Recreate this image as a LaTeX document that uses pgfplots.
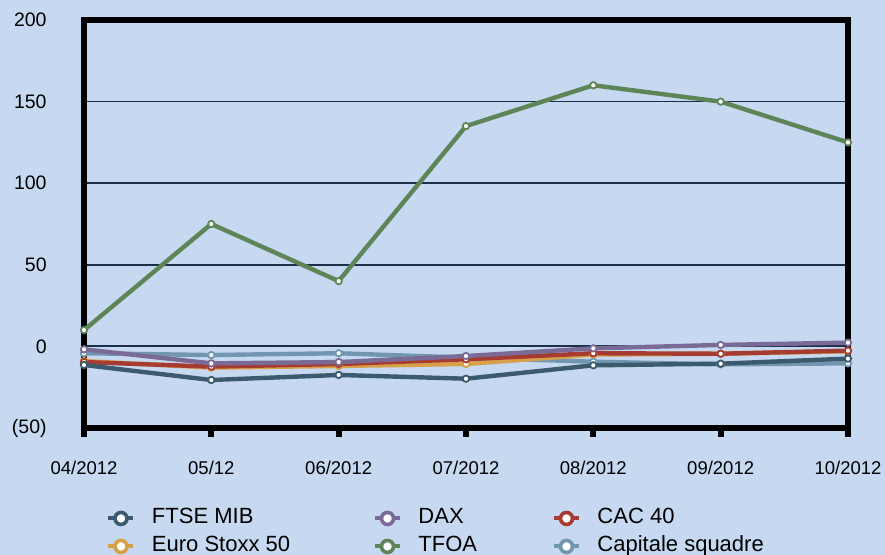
\documentclass[border=0pt]{standalone}
\usepackage{fontspec}
\setmainfont{Liberation Sans}
\usepackage{pgfplots}
\pgfplotsset{compat=1.18}
\definecolor{bg}{HTML}{C6D9F0}
\definecolor{gridc}{HTML}{1B2F4A}
\definecolor{cftse}{HTML}{3C5A6E}
\definecolor{cdax}{HTML}{7A6B96}
\definecolor{ccac}{HTML}{A63B32}
\definecolor{ceuro}{HTML}{D9A04A}
\definecolor{ctfoa}{HTML}{5E8558}
\definecolor{ccap}{HTML}{7296B0}
\begin{document}
\begin{tikzpicture}
\path[use as bounding box, fill=bg] (-42pt,-63.5pt) rectangle (400.5pt,214pt);
\begin{axis}[
  at={(0pt,0pt)}, anchor=south west,
  scale only axis, width=382pt, height=204pt,
  xmin=0, xmax=6, ymin=-50, ymax=200,
  xtick={0,1,2,3,4,5,6},
  xticklabels={04/2012,05/12,06/2012,07/2012,08/2012,09/2012,10/2012},
  ytick={-50,0,50,100,150,200},
  yticklabels={(50),0,50,100,150,200},
  /pgf/number format/assume math mode=true,
  axis line style={line width=3pt, black},
  tick align=outside,
  xtick pos=bottom,
  major tick length=4.5pt,
  x tick style={line width=3pt, black},
  y tick style={draw=none},
  ymajorgrids, grid style={gridc, line width=0.9pt},
  yticklabel style={font=\fontsize{9.75}{11}\selectfont, inner sep=0pt, anchor=east, xshift=-14pt},
  xticklabel style={font=\fontsize{9.25}{11}\selectfont, inner sep=0pt, anchor=north, yshift=-12pt},
  every axis plot/.append style={line width=2.2pt, mark=*, mark size=1.6pt, mark options={fill=white, line width=0.9pt}},
  legend image code/.code={\draw[mark indices={2}] plot coordinates {(0pt,0pt) (6.25pt,0pt) (12.5pt,0pt)};},
  legend columns=3,
  legend style={at={(0.02945,-0.196)}, anchor=north west, draw=none, fill=none, inner sep=0pt, outer sep=0pt,
    row sep=3.5pt, column sep=0pt,
    font=\fontsize{11}{13}\selectfont,
    nodes={inner sep=0pt, text height=8pt, text depth=2.5pt},
    /tikz/every odd column/.append style={column sep=8.25pt}},
  legend cell align=left,
]
\addplot[ccap, forget plot] coordinates {(0,-4.2) (1,-5.3) (2,-4.2) (3,-6.9) (4,-9.4) (5,-11) (6,-10.4)};
\addplot[ceuro, forget plot] coordinates {(0,-9) (1,-13) (2,-12) (3,-10.8) (4,-5) (5,-4.5) (6,-3)};
\addplot[ccac, forget plot] coordinates {(0,-9.6) (1,-12.4) (2,-10.8) (3,-7.9) (4,-4.2) (5,-4.5) (6,-2.6)};
\addplot[cftse, forget plot] coordinates {(0,-11.4) (1,-20.6) (2,-17.5) (3,-19.8) (4,-11.6) (5,-10.6) (6,-7.5)};
\addplot[cdax, forget plot] coordinates {(0,-1.8) (1,-10.4) (2,-9.6) (3,-5.9) (4,-1.2) (5,0.9) (6,2.3)};
\addplot[ctfoa, forget plot] coordinates {(0,10) (1,75) (2,40) (3,135) (4,160) (5,150) (6,125)};
\addlegendimage{cftse, line width=2pt, mark=*, mark size=3pt, mark options={fill=white, line width=1.8pt}}
\addlegendentry{\makebox[110.5pt][l]{FTSE MIB}}
\addlegendimage{cdax, line width=2pt, mark=*, mark size=3pt, mark options={fill=white, line width=1.8pt}}
\addlegendentry{\makebox[66.75pt][l]{DAX}}
\addlegendimage{ccac, line width=2pt, mark=*, mark size=3pt, mark options={fill=white, line width=1.8pt}}
\addlegendentry{CAC 40}
\addlegendimage{ceuro, line width=2pt, mark=*, mark size=3pt, mark options={fill=white, line width=1.8pt}}
\addlegendentry{\makebox[110.5pt][l]{Euro Stoxx 50}}
\addlegendimage{ctfoa, line width=2pt, mark=*, mark size=3pt, mark options={fill=white, line width=1.8pt}}
\addlegendentry{\makebox[66.75pt][l]{TFOA}}
\addlegendimage{ccap, line width=2pt, mark=*, mark size=3pt, mark options={fill=white, line width=1.8pt}}
\addlegendentry{Capitale squadre}
\end{axis}
\end{tikzpicture}
\end{document}
